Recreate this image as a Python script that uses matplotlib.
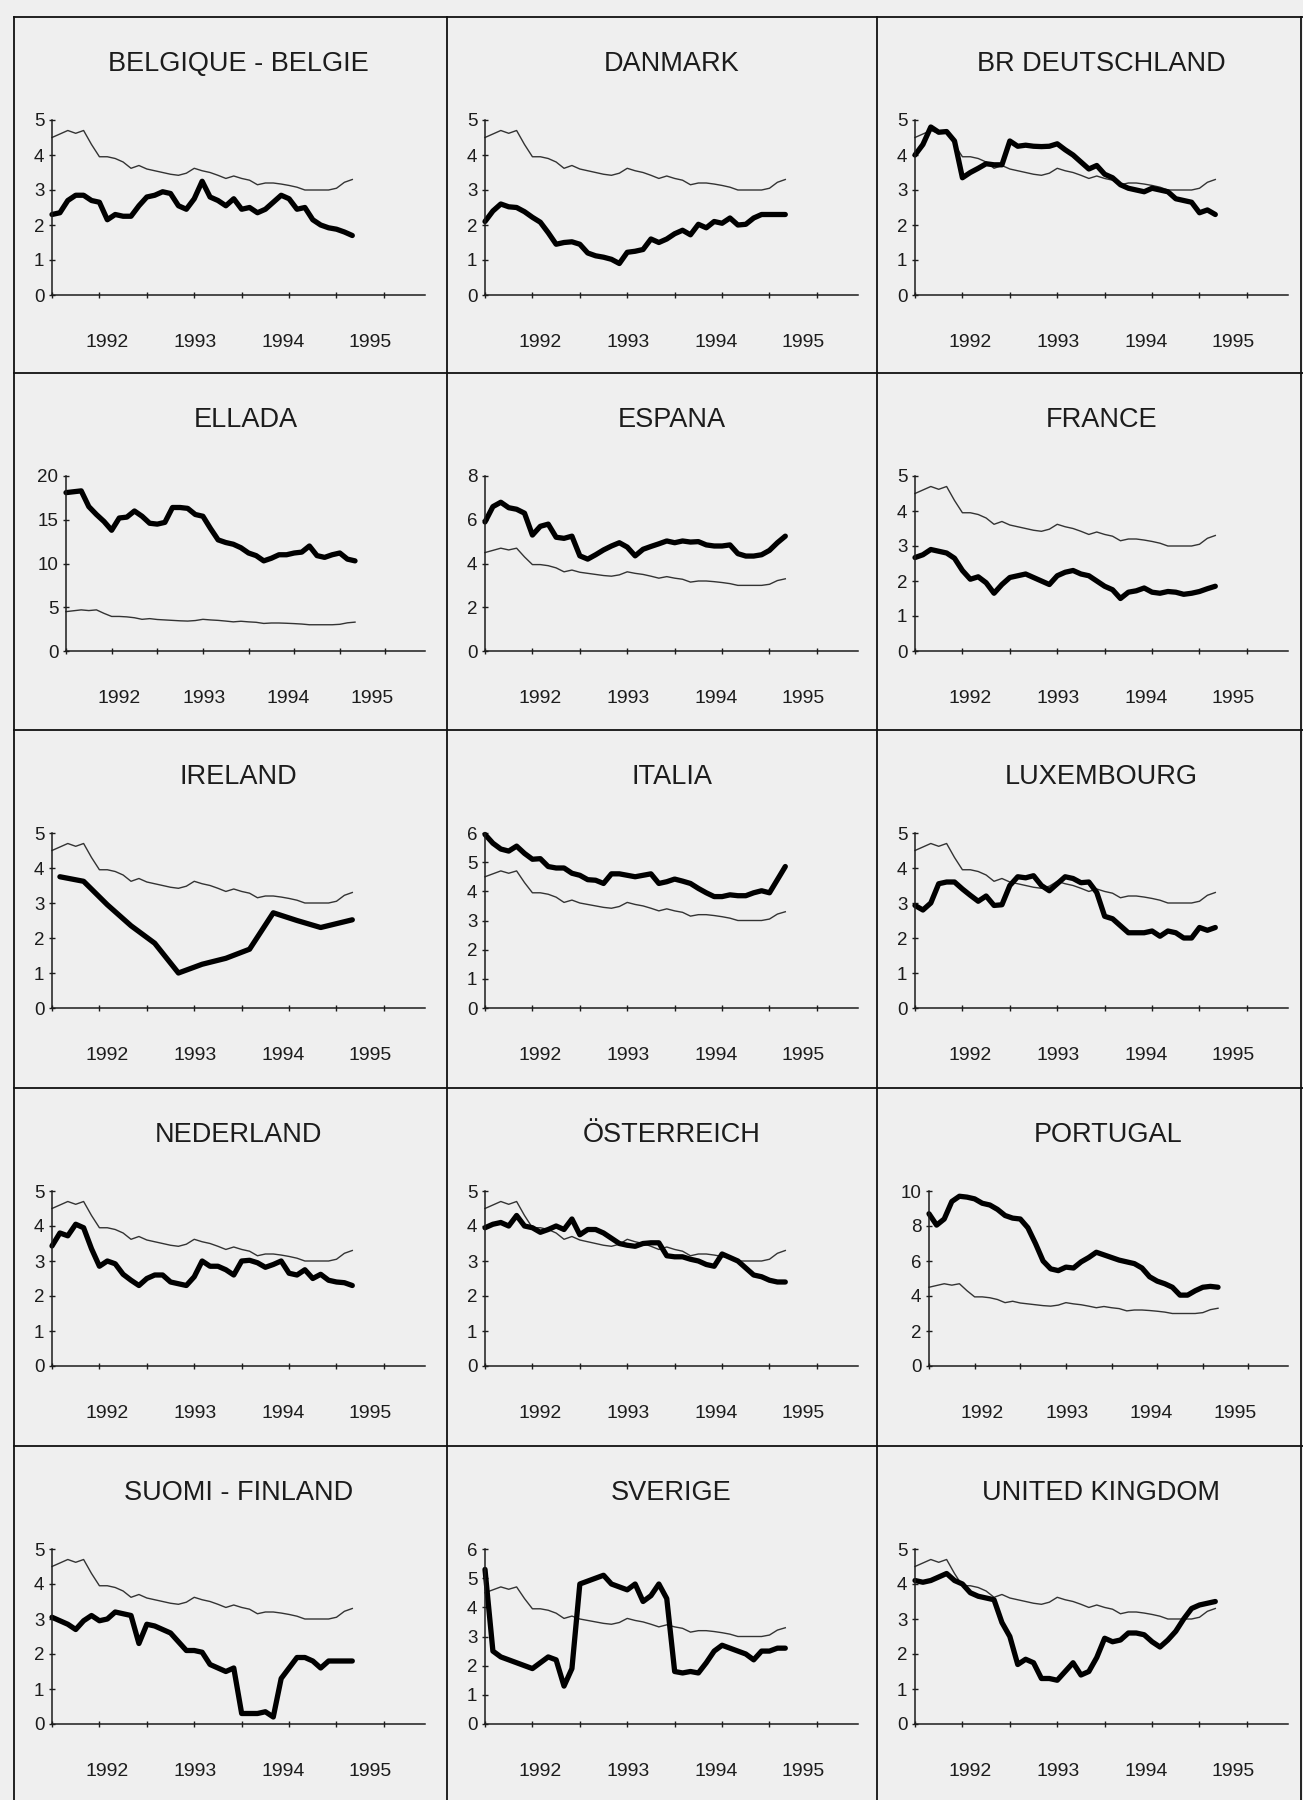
import matplotlib
matplotlib.use("Agg")
import matplotlib.pyplot as plt
from matplotlib.lines import Line2D

plt.rcParams['font.family'] = ['Liberation Sans', 'DejaVu Sans']

# monthly points, 39 months shown in every panel
months = list(range(39))

# thin line: same reference series in every panel
eu_avg = [4.5, 4.6, 4.7, 4.62, 4.7, 4.3, 3.95, 3.95, 3.9, 3.8,
          3.62, 3.7, 3.6, 3.55, 3.5, 3.45, 3.42, 3.48, 3.62, 3.55,
          3.5, 3.42, 3.33, 3.4, 3.33, 3.28, 3.15, 3.2, 3.2, 3.17,
          3.13, 3.08, 3.0, 3.0, 3.0, 3.0, 3.05, 3.22, 3.3]

belgique = [2.3, 2.35, 2.7, 2.85, 2.85, 2.7, 2.65, 2.15, 2.3, 2.25,
            2.25, 2.55, 2.8, 2.85, 2.95, 2.9, 2.55, 2.45, 2.75, 3.25,
            2.8, 2.7, 2.55, 2.75, 2.45, 2.5, 2.35, 2.45, 2.65, 2.85,
            2.75, 2.45, 2.5, 2.15, 2.0, 1.92, 1.88, 1.8, 1.7]
danmark = [2.1, 2.4, 2.6, 2.52, 2.5, 2.38, 2.22, 2.08, 1.78, 1.45,
           1.5, 1.52, 1.45, 1.2, 1.12, 1.08, 1.02, 0.9, 1.22, 1.25,
           1.3, 1.6, 1.5, 1.6, 1.75, 1.85, 1.72, 2.02, 1.92, 2.1,
           2.05, 2.2, 2.0, 2.02, 2.2, 2.3, 2.3, 2.3, 2.3]
deutschland = [4.0, 4.3, 4.8, 4.65, 4.67, 4.4, 3.35, 3.5, 3.62, 3.75,
               3.72, 3.72, 4.4, 4.25, 4.28, 4.25, 4.24, 4.25, 4.32, 4.15,
               4.0, 3.8, 3.6, 3.7, 3.45, 3.35, 3.15, 3.05, 3.0, 2.95,
               3.05, 3.0, 2.95, 2.75, 2.7, 2.65, 2.35, 2.43, 2.3]
ellada = [18.1, 18.2, 18.3, 16.5, 15.6, 14.8, 13.8, 15.2, 15.3, 16.0,
          15.4, 14.6, 14.5, 14.7, 16.4, 16.4, 16.3, 15.6, 15.4, 14.0,
          12.7, 12.4, 12.2, 11.8, 11.2, 10.9, 10.3, 10.6, 11.0, 11.0,
          11.2, 11.3, 12.0, 10.9, 10.7, 11.0, 11.2, 10.5, 10.3]
espana = [5.9, 6.6, 6.8, 6.55, 6.48, 6.3, 5.3, 5.7, 5.8, 5.2,
          5.15, 5.25, 4.35, 4.2, 4.4, 4.62, 4.8, 4.95, 4.75, 4.35,
          4.65, 4.78, 4.9, 5.03, 4.95, 5.03, 4.98, 5.0, 4.85, 4.8,
          4.8, 4.85, 4.45, 4.34, 4.34, 4.4, 4.6, 4.95, 5.25]
france = [2.67, 2.75, 2.9, 2.85, 2.8, 2.65, 2.3, 2.05, 2.12, 1.95,
          1.65, 1.9, 2.1, 2.15, 2.2, 2.1, 2.0, 1.9, 2.15, 2.25,
          2.3, 2.2, 2.15, 2.0, 1.85, 1.75, 1.5, 1.68, 1.72, 1.8,
          1.68, 1.65, 1.7, 1.68, 1.62, 1.65, 1.7, 1.78, 1.85]
# Ireland is only quarterly
ireland_months = [1, 4, 7, 10, 13, 16, 19, 22, 25, 28, 31, 34, 38]
ireland = [3.75, 3.62, 2.95, 2.35, 1.85, 1.0, 1.25, 1.42, 1.68, 2.72, 2.5, 2.3, 2.52]
italia = [5.95, 5.65, 5.45, 5.38, 5.55, 5.3, 5.1, 5.12, 4.85, 4.8,
          4.8, 4.62, 4.55, 4.4, 4.38, 4.27, 4.6, 4.6, 4.55, 4.5,
          4.55, 4.6, 4.27, 4.33, 4.42, 4.35, 4.27, 4.1, 3.95, 3.82,
          3.82, 3.88, 3.85, 3.85, 3.95, 4.02, 3.95, 4.4, 4.85]
luxembourg = [2.93, 2.8, 3.0, 3.55, 3.6, 3.6, 3.4, 3.22, 3.05, 3.2,
              2.93, 2.95, 3.5, 3.75, 3.72, 3.78, 3.5, 3.35, 3.55, 3.75,
              3.7, 3.58, 3.6, 3.3, 2.62, 2.55, 2.35, 2.15, 2.15, 2.15,
              2.2, 2.05, 2.2, 2.15, 2.0, 2.0, 2.3, 2.22, 2.3]
nederland = [3.43, 3.8, 3.72, 4.05, 3.95, 3.35, 2.85, 3.0, 2.92, 2.62,
             2.45, 2.3, 2.5, 2.6, 2.6, 2.4, 2.35, 2.3, 2.55, 3.0,
             2.85, 2.85, 2.75, 2.6, 3.0, 3.02, 2.95, 2.82, 2.9, 3.0,
             2.65, 2.6, 2.75, 2.5, 2.62, 2.45, 2.4, 2.38, 2.3]
osterreich = [3.95, 4.05, 4.1, 4.0, 4.3, 4.0, 3.95, 3.82, 3.9, 4.0,
              3.9, 4.2, 3.75, 3.9, 3.9, 3.8, 3.65, 3.5, 3.45, 3.42,
              3.5, 3.52, 3.52, 3.15, 3.12, 3.12, 3.05, 3.0, 2.9, 2.85,
              3.2, 3.1, 3.0, 2.8, 2.6, 2.55, 2.45, 2.4, 2.4]
portugal = [8.7, 8.05, 8.4, 9.4, 9.7, 9.65, 9.55, 9.3, 9.2, 8.95,
            8.6, 8.45, 8.4, 7.9, 7.0, 6.0, 5.55, 5.45, 5.65, 5.6,
            5.95, 6.2, 6.5, 6.35, 6.2, 6.05, 5.95, 5.85, 5.6, 5.1,
            4.85, 4.7, 4.5, 4.05, 4.05, 4.3, 4.5, 4.55, 4.5]
suomi = [3.05, 2.95, 2.85, 2.7, 2.95, 3.1, 2.95, 3.0, 3.2, 3.15,
         3.1, 2.3, 2.85, 2.8, 2.7, 2.6, 2.35, 2.1, 2.1, 2.05,
         1.7, 1.6, 1.5, 1.6, 0.3, 0.3, 0.3, 0.35, 0.2, 1.3,
         1.6, 1.9, 1.9, 1.8, 1.6, 1.8, 1.8, 1.8, 1.8]
sverige = [5.3, 2.5, 2.3, 2.2, 2.1, 2.0, 1.9, 2.1, 2.3, 2.2,
           1.3, 1.9, 4.8, 4.9, 5.0, 5.1, 4.8, 4.7, 4.6, 4.8,
           4.2, 4.4, 4.8, 4.3, 1.8, 1.75, 1.8, 1.75, 2.1, 2.5,
           2.7, 2.6, 2.5, 2.4, 2.2, 2.5, 2.5, 2.6, 2.6]
united_kingdom = [4.1, 4.05, 4.1, 4.2, 4.3, 4.1, 4.0, 3.75, 3.65, 3.6,
                  3.55, 2.9, 2.5, 1.7, 1.85, 1.75, 1.3, 1.3, 1.25, 1.5,
                  1.75, 1.4, 1.5, 1.9, 2.45, 2.35, 2.4, 2.6, 2.6, 2.55,
                  2.35, 2.2, 2.4, 2.65, 3.0, 3.3, 3.4, 3.45, 3.5]

# (title, x, y, y max, y step)
panels = [
    ("BELGIQUE - BELGIE", months, belgique, 5, 1),
    ("DANMARK", months, danmark, 5, 1),
    ("BR DEUTSCHLAND", months, deutschland, 5, 1),
    ("ELLADA", months, ellada, 20, 5),
    ("ESPANA", months, espana, 8, 2),
    ("FRANCE", months, france, 5, 1),
    ("IRELAND", ireland_months, ireland, 5, 1),
    ("ITALIA", months, italia, 6, 1),
    ("LUXEMBOURG", months, luxembourg, 5, 1),
    ("NEDERLAND", months, nederland, 5, 1),
    ("ÖSTERREICH", months, osterreich, 5, 1),
    ("PORTUGAL", months, portugal, 10, 2),
    ("SUOMI - FINLAND", months, suomi, 5, 1),
    ("SVERIGE", months, sverige, 6, 1),
    ("UNITED KINGDOM", months, united_kingdom, 5, 1),
]

year_pos = [7.0, 18.1, 29.2, 40.3]
year_labels = ["1992", "1993", "1994", "1995"]
half_years = list(range(0, 48, 6))

W, H = 1303, 1800
col_x = [14, 447, 877]
row_y = [17, 373, 730, 1088, 1446]
ink = "#1c1c1c"

fig = plt.figure(figsize=(W / 100, H / 100), dpi=100, facecolor="#efefef")

for i, (name, xs, ys, ymax, ystep) in enumerate(panels):
    r, c = divmod(i, 3)
    px, py = col_x[c], row_y[r]
    left = px + (52 if ymax >= 10 else 38)
    right = px + 411
    top = py + 103
    bottom = py + 278
    ax = fig.add_axes([left / W, 1 - bottom / H, (right - left) / W, (bottom - top) / H])
    ax.set_facecolor("none")

    ax.plot(months, eu_avg, color="#333333", lw=1.0, clip_on=False)
    ax.plot(xs, ys, color="black", lw=3.8, solid_joinstyle="round",
            solid_capstyle="round", clip_on=False)

    ax.set_xlim(0, 47.2)
    ax.set_ylim(0, ymax)
    ax.set_yticks(list(range(0, ymax + 1, ystep)))
    ax.set_xticks(year_pos, year_labels)
    ax.set_xticks(half_years, minor=True)

    for s in ["top", "right"]:
        ax.spines[s].set_visible(False)
    for s in ["left", "bottom"]:
        ax.spines[s].set_linewidth(1.1)
        ax.spines[s].set_color(ink)

    ax.tick_params(axis="y", direction="inout", length=5, width=1, colors=ink,
                   labelsize=13.5, pad=3)
    ax.tick_params(axis="x", which="major", length=0, labelsize=14, pad=28,
                   colors=ink)
    ax.tick_params(axis="x", which="minor", direction="inout", length=5,
                   width=1, color=ink)

    fig.text((left + right) / 2 / W, 1 - (py + 47) / H, name, ha="center",
             va="center", fontsize=19.5, color=ink)

# panel frame lines
for x in col_x + [1301]:
    fig.add_artist(Line2D([x / W, x / W], [1 - 17 / H, 0], color="#111111", lw=1.3))
for y in row_y:
    fig.add_artist(Line2D([14 / W, 1], [1 - y / H, 1 - y / H], color="#111111", lw=1.3))

fig.savefig("out.png", dpi=100, facecolor=fig.get_facecolor())
